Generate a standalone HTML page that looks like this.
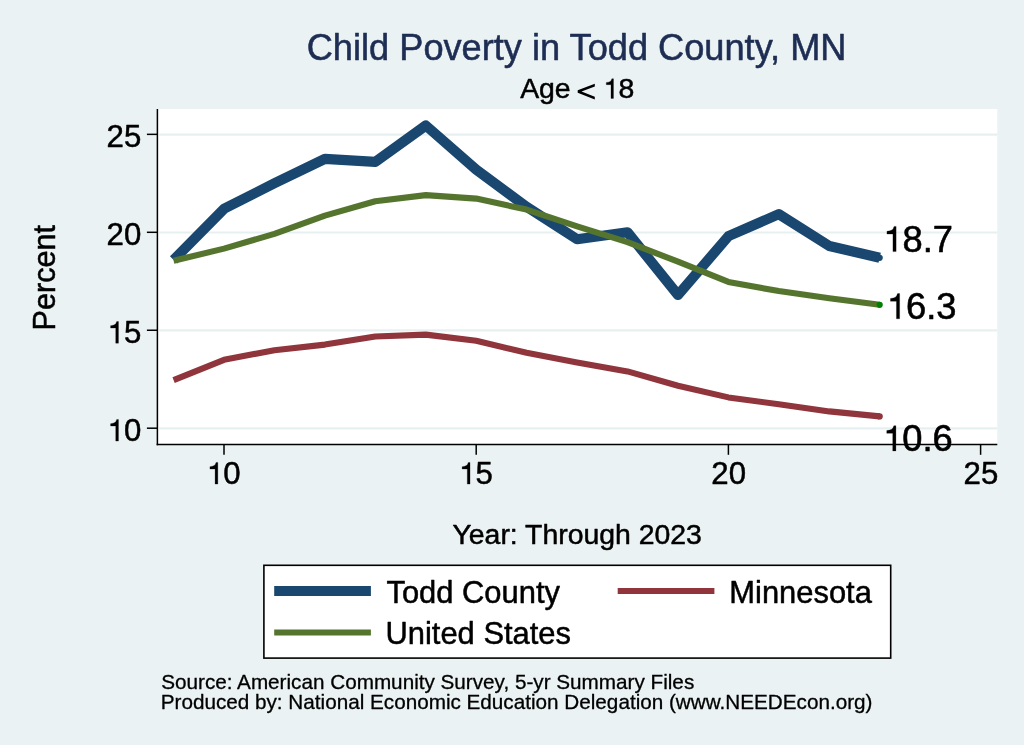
<!DOCTYPE html>
<html><head><meta charset="utf-8"><title>Child Poverty in Todd County, MN</title>
<style>
html,body{margin:0;padding:0;background:#eaf2f3;}
body{width:1024px;height:745px;overflow:hidden;font-family:"Liberation Sans",sans-serif;}
svg{display:block;font-family:"Liberation Sans",sans-serif;will-change:transform;}
text{stroke:#000;stroke-width:0.5px;stroke-linejoin:round;white-space:pre;}
text.ti{stroke:#1e2d53;stroke-width:0.55px;}
text.ml{stroke-width:0.6px;}
text.nt{stroke-width:0.3px;}
tspan.h{fill:none;stroke:none;}
</style></head><body>
<svg width="1024" height="745" viewBox="0 0 1024 745">
<rect x="0" y="0" width="1024" height="745" fill="#eaf2f3"/>
<rect x="157.4" y="109" width="839.9" height="335.4" fill="#fff"/>
<line x1="159.2" x2="997.3" y1="428.40" y2="428.40" stroke="#e7f0f1" stroke-width="2.2"/><line x1="159.2" x2="997.3" y1="330.45" y2="330.45" stroke="#e7f0f1" stroke-width="2.2"/><line x1="159.2" x2="997.3" y1="232.50" y2="232.50" stroke="#e7f0f1" stroke-width="2.2"/><line x1="159.2" x2="997.3" y1="134.55" y2="134.55" stroke="#e7f0f1" stroke-width="2.2"/>
<path d="M173.6,259.9 L224.0,208.8 L274.4,183.3 L324.9,158.8 L375.3,161.8 L425.8,125.5 L476.2,169.6 L526.6,206.8 L577.1,239.2 L627.5,232.3 L678.0,295.0 L728.4,236.2 L778.8,214.1 L829.3,246.0 L879.7,257.8" fill="none" stroke="#1a476f" stroke-width="10.2" stroke-linejoin="round"/>
<path d="M173.6,260.7 L224.0,248.6 L274.4,233.9 L324.9,215.6 L375.3,201.3 L425.8,195.1 L476.2,198.6 L526.6,209.6 L577.1,226.4 L627.5,242.1 L678.0,261.7 L728.4,281.9 L778.8,291.1 L829.3,298.3 L879.7,304.8" fill="none" stroke="#55752f" stroke-width="6.1" stroke-linejoin="round"/>
<path d="M173.6,380.2 L224.0,359.8 L274.4,350.2 L324.9,344.6 L375.3,336.5 L425.8,334.6 L476.2,340.8 L526.6,352.8 L577.1,362.4 L627.5,371.4 L678.0,385.7 L728.4,397.4 L778.8,404.3 L829.3,411.4 L879.7,416.4" fill="none" stroke="#90353b" stroke-width="6.1" stroke-linejoin="round"/>
<circle cx="879.7" cy="257.8" r="3.1" fill="#1a476f"/>
<circle cx="879.7" cy="304.8" r="3.1" fill="#008000"/>
<circle cx="879.7" cy="416.4" r="3.1" fill="#90353b"/>
<line x1="157.4" x2="157.4" y1="109" y2="445.2" stroke="#000" stroke-width="1.5"/>
<line x1="156.65" x2="997.3" y1="444.4" y2="444.4" stroke="#000" stroke-width="1.5"/>
<line x1="146.9" x2="157.4" y1="428.20" y2="428.20" stroke="#000" stroke-width="1.5"/><path transform="translate(106.59,441.10) scale(0.01523,-0.01523)" d="M780 0H600V990H262V1146Q456 1165 540 1220T664 1422H780Z" fill="#000" stroke="#000" stroke-width="16.4" stroke-linejoin="miter"/><text x="106.59" y="441.10" font-size="31.2"><tspan class="h">1</tspan>0</text><line x1="146.9" x2="157.4" y1="330.25" y2="330.25" stroke="#000" stroke-width="1.5"/><path transform="translate(106.59,343.15) scale(0.01523,-0.01523)" d="M780 0H600V990H262V1146Q456 1165 540 1220T664 1422H780Z" fill="#000" stroke="#000" stroke-width="16.4" stroke-linejoin="miter"/><text x="106.59" y="343.15" font-size="31.2"><tspan class="h">1</tspan>5</text><line x1="146.9" x2="157.4" y1="232.30" y2="232.30" stroke="#000" stroke-width="1.5"/><text x="106.59" y="245.20" font-size="31.2">20</text><line x1="146.9" x2="157.4" y1="134.35" y2="134.35" stroke="#000" stroke-width="1.5"/><text x="106.59" y="147.25" font-size="31.2">25</text>
<line x1="224.00" x2="224.00" y1="444.4" y2="454.8" stroke="#000" stroke-width="1.5"/><path transform="translate(205.95,484.10) scale(0.01523,-0.01523)" d="M780 0H600V990H262V1146Q456 1165 540 1220T664 1422H780Z" fill="#000" stroke="#000" stroke-width="16.4" stroke-linejoin="miter"/><text x="205.95" y="484.10" font-size="31.2"><tspan class="h">1</tspan>0</text><line x1="476.20" x2="476.20" y1="444.4" y2="454.8" stroke="#000" stroke-width="1.5"/><path transform="translate(458.15,484.10) scale(0.01523,-0.01523)" d="M780 0H600V990H262V1146Q456 1165 540 1220T664 1422H780Z" fill="#000" stroke="#000" stroke-width="16.4" stroke-linejoin="miter"/><text x="458.15" y="484.10" font-size="31.2"><tspan class="h">1</tspan>5</text><line x1="728.40" x2="728.40" y1="444.4" y2="454.8" stroke="#000" stroke-width="1.5"/><text x="711.35" y="484.10" font-size="31.2">20</text><line x1="980.60" x2="980.60" y1="444.4" y2="454.8" stroke="#000" stroke-width="1.5"/><text x="963.55" y="484.10" font-size="31.2">25</text>
<path transform="translate(882.30,251.60) scale(0.01772,-0.01772)" d="M780 0H600V990H262V1146Q456 1165 540 1220T664 1422H780Z" fill="#000" stroke="#000" stroke-width="14.1" stroke-linejoin="miter"/><text x="882.30" y="251.60" font-size="36.3" class="ml"><tspan class="h">1</tspan>8.7</text>
<path transform="translate(885.80,318.80) scale(0.01772,-0.01772)" d="M780 0H600V990H262V1146Q456 1165 540 1220T664 1422H780Z" fill="#000" stroke="#000" stroke-width="14.1" stroke-linejoin="miter"/><text x="885.80" y="318.80" font-size="36.3" class="ml"><tspan class="h">1</tspan>6.3</text>
<path transform="translate(882.10,450.90) scale(0.01772,-0.01772)" d="M780 0H600V990H262V1146Q456 1165 540 1220T664 1422H780Z" fill="#000" stroke="#000" stroke-width="14.1" stroke-linejoin="miter"/><text x="882.10" y="450.90" font-size="36.3" class="ml"><tspan class="h">1</tspan>0.6</text>
<text x="576.6" y="60" text-anchor="middle" font-size="36.2" fill="#1e2d53" class="ti">Child Poverty in Todd County, MN</text>
<path d="M594.8 83.7L577.7 90.3V92.8L594.8 99.4V96.7L581.5 91.55L594.8 86.4Z" fill="#000"/><path transform="translate(602.66,98.40) scale(0.01387,-0.01387)" d="M780 0H600V990H262V1146Q456 1165 540 1220T664 1422H780Z" fill="#000" stroke="#000" stroke-width="18.0" stroke-linejoin="miter"/><text x="520.15" y="98.4" font-size="28.4">Age<tspan class="h"> &lt; 1</tspan><tspan x="618.46">8</tspan></text>
<text x="577.2" y="544" text-anchor="middle" font-size="28.4">Year: Through 2023</text>
<text transform="translate(55.4,277.7) rotate(-90)" text-anchor="middle" font-size="30.6">Percent</text>
<rect x="263.9" y="565.3" width="626.8" height="92.8" fill="#fff" stroke="#000" stroke-width="1.6"/>
<line x1="274.2" x2="370.9" y1="591.0" y2="591.0" stroke="#1a476f" stroke-width="10.2"/>
<line x1="274.2" x2="370.9" y1="632.5" y2="632.5" stroke="#55752f" stroke-width="6.1"/>
<line x1="617.7" x2="714.4" y1="591.0" y2="591.0" stroke="#90353b" stroke-width="6.1"/>
<text x="386.5" y="603.3" font-size="30.9">Todd County</text>
<text x="385.5" y="644.3" font-size="30.9">United States</text>
<text x="729.3" y="603.3" font-size="30.9">Minnesota</text>
<text x="161.2" y="689" font-size="20.7" class="nt">Source: American Community Survey, 5-yr Summary Files</text>
<text x="160.7" y="709" font-size="20.7" class="nt">Produced by: National Economic Education Delegation (www.NEEDEcon.org)</text>
</svg>
</body></html>
